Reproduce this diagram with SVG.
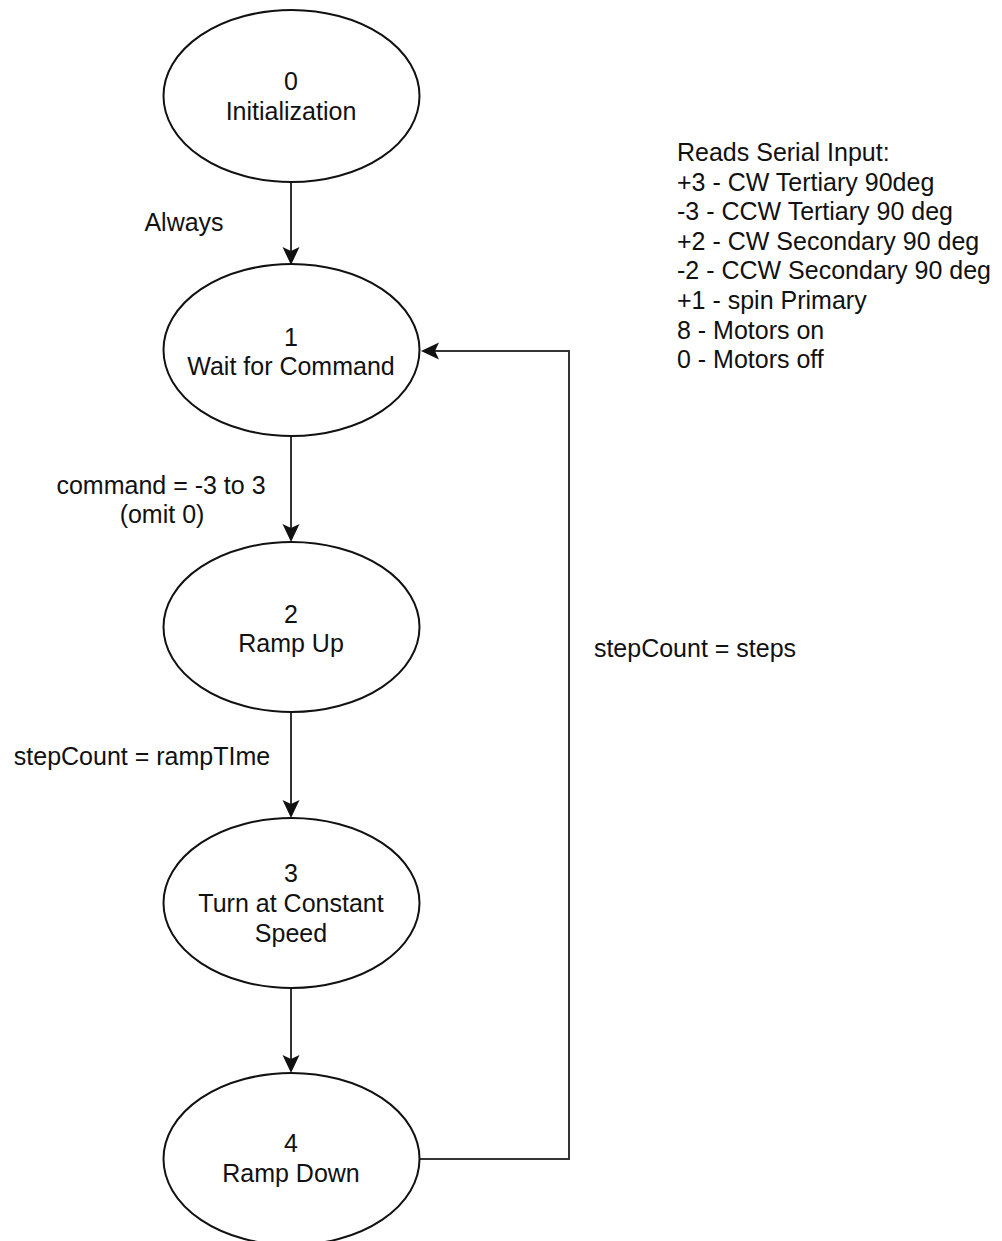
<svg xmlns="http://www.w3.org/2000/svg" width="1002" height="1241" viewBox="0 0 1002 1241">
  <style>
    .state { fill: #ffffff; stroke: #111111; stroke-width: 2; }
    .lbl { font-family: "Liberation Sans", Arial, sans-serif; font-size: 25px; fill: #111111; }
    .mid { text-anchor: middle; }
    .edge { fill: none; stroke: #333333; stroke-width: 2; }
  </style>
  <defs>
    <marker id="arrow" viewBox="0 0 18 18" markerWidth="18" markerHeight="18" refX="14" refY="9" orient="auto" markerUnits="userSpaceOnUse">
      <path d="M0,0.5 L18,9 L0,17.5 L4,9 Z" fill="#111111"/>
    </marker>
  </defs>
  <rect width="1002" height="1241" fill="#ffffff"/>

  <!-- transitions -->
  <g id="connectors">
    <path class="edge" d="M291,182 V261" marker-end="url(#arrow)"/>
    <path class="edge" d="M291,436 V538" marker-end="url(#arrow)"/>
    <path class="edge" d="M291,712 V814" marker-end="url(#arrow)"/>
    <path class="edge" d="M291,988 V1069" marker-end="url(#arrow)"/>
    <path class="edge" d="M420,1159 H569 V351 H425" marker-end="url(#arrow)"/>
    <text class="lbl mid" x="184" y="231">Always</text>
    <text class="lbl mid" x="161" y="494">command = -3 to 3</text>
    <text class="lbl mid" x="162" y="523">(omit 0)</text>
    <text class="lbl mid" x="142" y="765">stepCount = rampTIme</text>
    <text class="lbl mid" x="695" y="657">stepCount = steps</text>
  </g>

  <!-- states -->
  <g id="state0">
    <ellipse class="state" cx="291.5" cy="96" rx="128" ry="86"/>
    <text class="lbl mid" x="291" y="90">0</text>
    <text class="lbl mid" x="291" y="120">Initialization</text>
  </g>
  <g id="state1">
    <ellipse class="state" cx="291.5" cy="350" rx="128" ry="86"/>
    <text class="lbl mid" x="291" y="346">1</text>
    <text class="lbl mid" x="291" y="375">Wait for Command</text>
  </g>
  <g id="state2">
    <ellipse class="state" cx="291.5" cy="627" rx="128" ry="85"/>
    <text class="lbl mid" x="291" y="623">2</text>
    <text class="lbl mid" x="291" y="652">Ramp Up</text>
  </g>
  <g id="state3">
    <ellipse class="state" cx="291.5" cy="903" rx="128" ry="85"/>
    <text class="lbl mid" x="291" y="882">3</text>
    <text class="lbl mid" x="291" y="912">Turn at Constant</text>
    <text class="lbl mid" x="291" y="942">Speed</text>
  </g>
  <g id="state4">
    <ellipse class="state" cx="291.5" cy="1159" rx="128" ry="86"/>
    <text class="lbl mid" x="291" y="1152">4</text>
    <text class="lbl mid" x="291" y="1182">Ramp Down</text>
  </g>

  <!-- serial command legend -->
  <g id="legend">
    <text class="lbl" x="677" y="161">Reads Serial Input:</text>
    <text class="lbl" x="677" y="190.6">+3 - CW Tertiary 90deg</text>
    <text class="lbl" x="677" y="220.2">-3 - CCW Tertiary 90 deg</text>
    <text class="lbl" x="677" y="249.8">+2 - CW Secondary 90 deg</text>
    <text class="lbl" x="677" y="279.4">-2 - CCW Secondary 90 deg</text>
    <text class="lbl" x="677" y="309">+1 - spin Primary</text>
    <text class="lbl" x="677" y="338.6">8 - Motors on</text>
    <text class="lbl" x="677" y="368.2">0 - Motors off</text>
  </g>
</svg>
